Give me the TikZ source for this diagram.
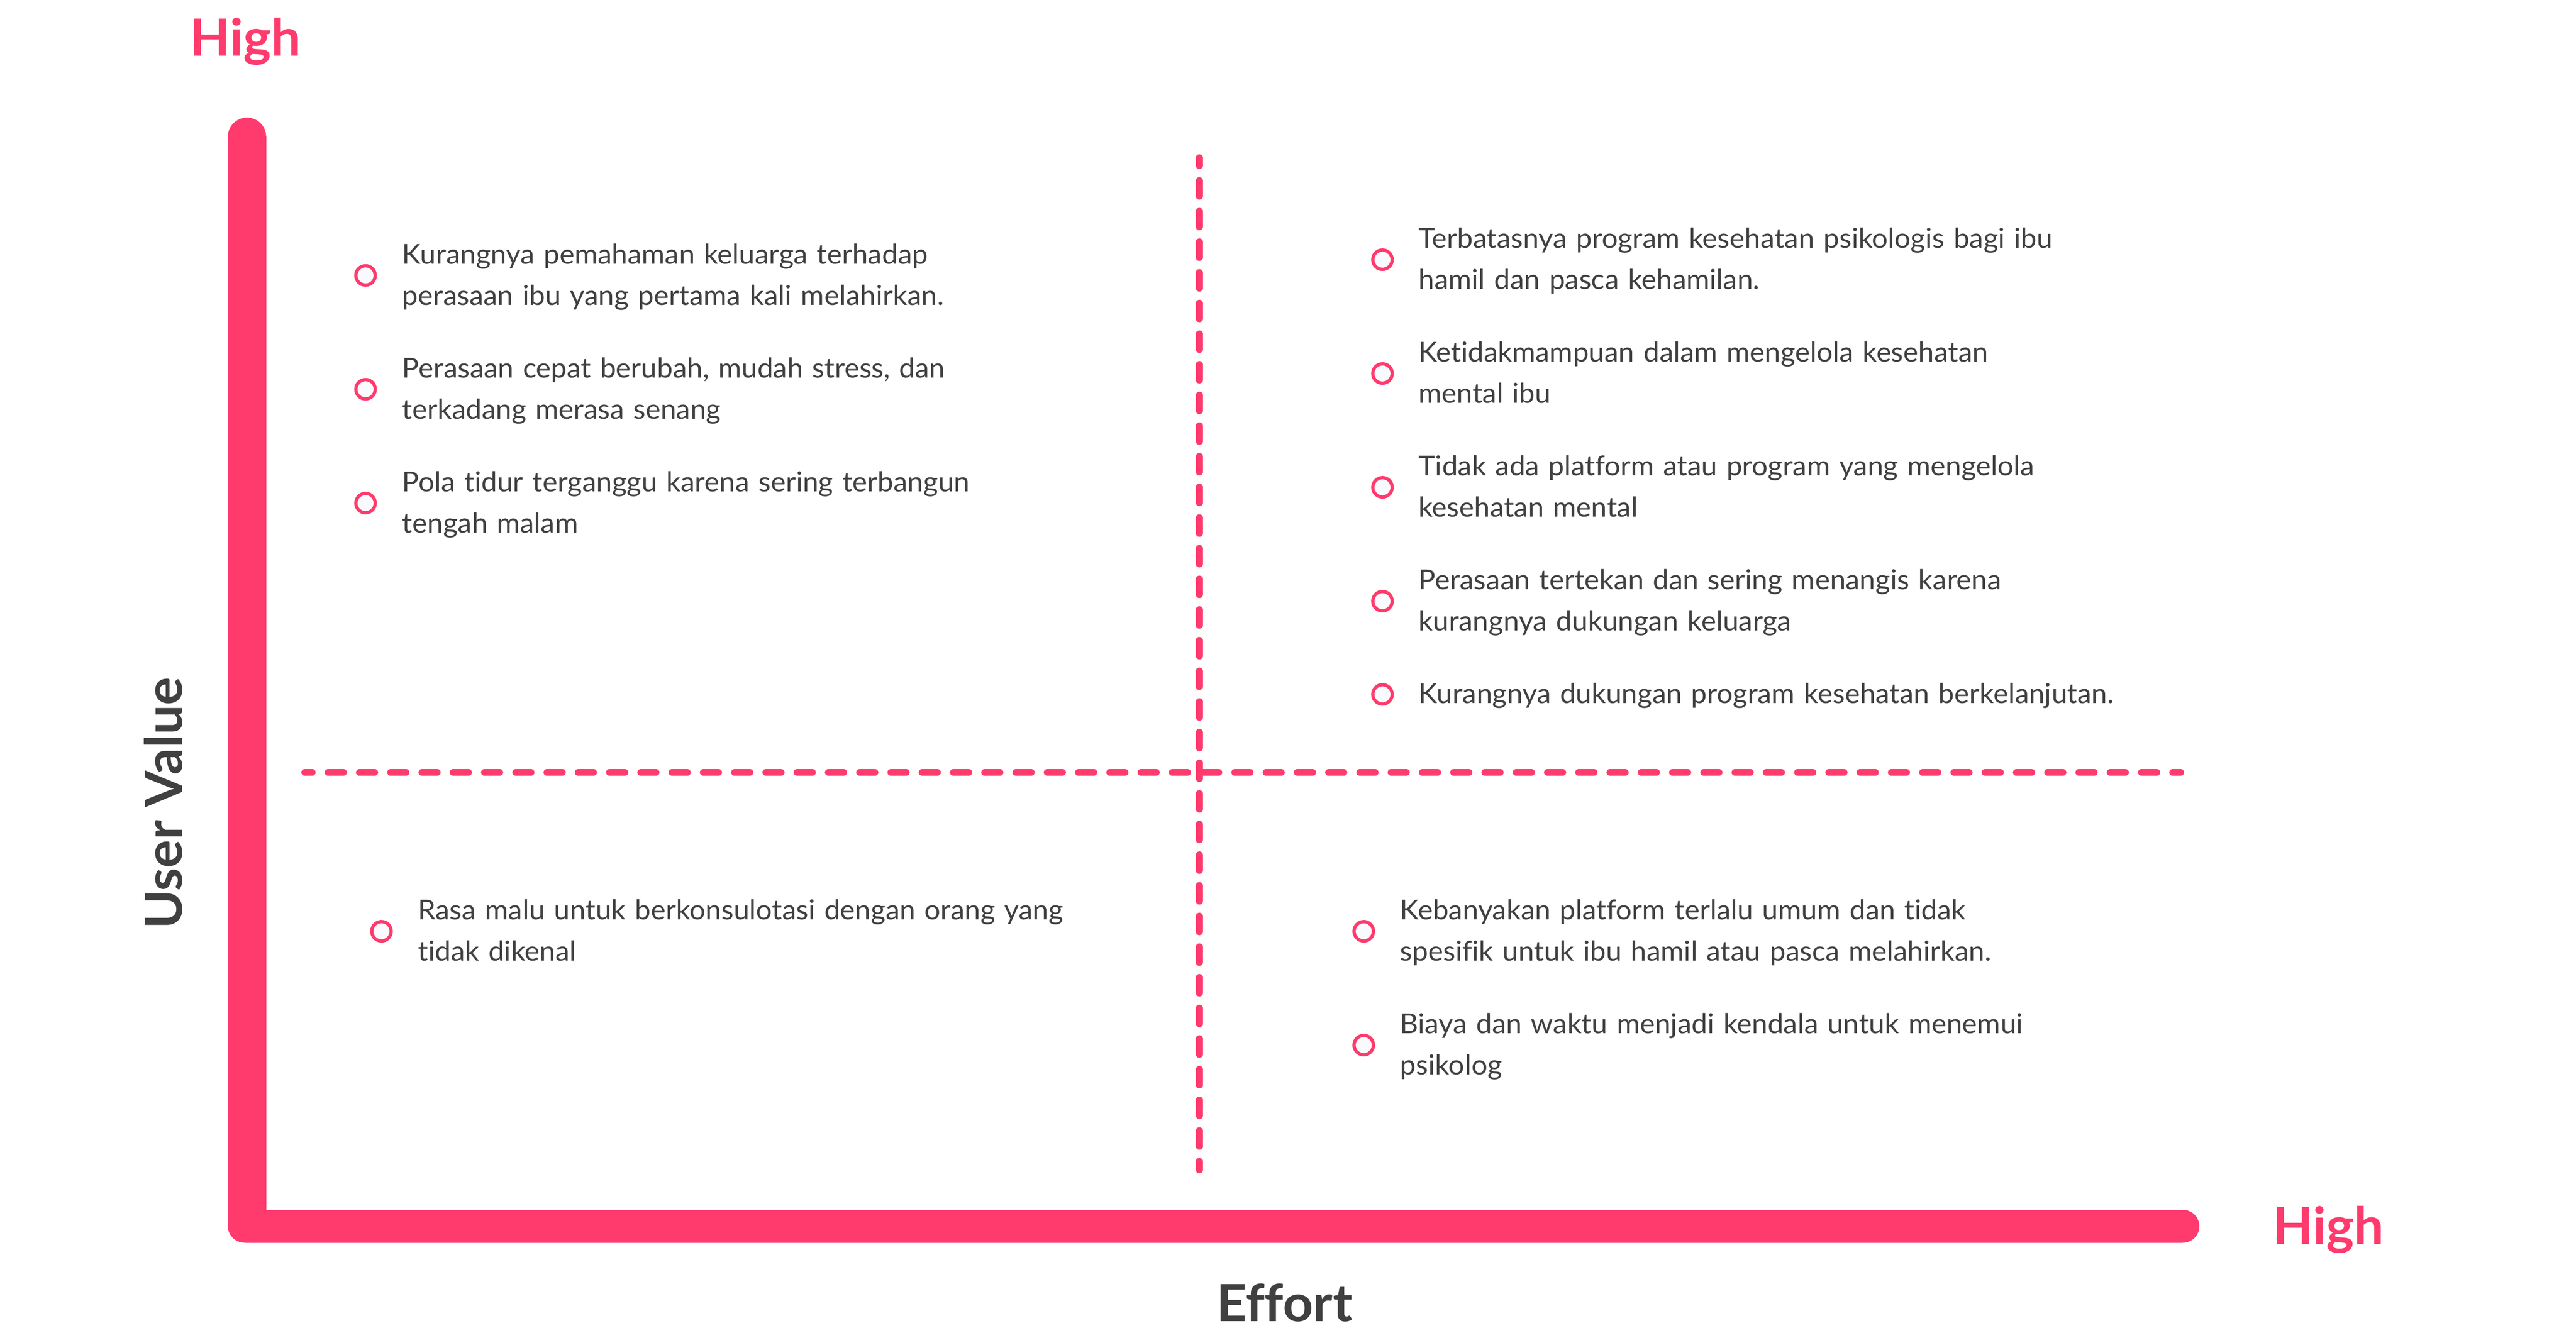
\documentclass[tikz,border=0pt]{standalone}
\usepackage{fontspec}
\setmainfont{Lato}[FakeStretch=1.028,Ligatures=NoCommon]
\definecolor{pinkc}{HTML}{FF3A6D}
\definecolor{txtc}{HTML}{404040}
\definecolor{bulfill}{HTML}{F9FAFD}
\begin{document}
\begin{tikzpicture}[x=1pt,y=-1pt,
  bul/.style={circle,draw=pinkc,line width=2pt,fill=bulfill,minimum size=11.8pt,inner sep=0pt,outer sep=0pt},
  itemtext/.style={anchor=base west,inner sep=0pt,outer sep=0pt,text width=460pt,align=left,text=txtc,
    font=\fontsize{16.75}{25.1}\selectfont},
  hilabel/.style={inner sep=0pt,outer sep=0pt,text=pinkc,font=\fontsize{31.2}{36}\selectfont\bfseries},
  axlabel/.style={inner sep=0pt,outer sep=0pt,text=txtc,font=\fontsize{31.2}{36}\selectfont\bfseries},
  vdash/.style={pinkc,line width=4.2pt,line cap=round,dash pattern=on 9.5pt off 9.16pt,dash phase=4.7pt},
  hdash/.style={pinkc,line width=4.2pt,line cap=round,dash pattern=on 9.3pt off 9.73pt,dash phase=4.8pt}]
\useasboundingbox (0,0) rectangle (1568,811.45);

% axes
\fill[pinkc] (150.35,83.25) circle[radius=11.65pt];
\fill[pinkc] (138.7,83.25) rectangle (162.0,746.4);
\fill[pinkc] (148.9,746.4) circle[radius=10.2pt];
\fill[pinkc] (148.9,736.6) rectangle (1328.7,756.6);
\fill[pinkc] (1328.7,746.6) circle[radius=10pt];

% quadrant dividers
\coordinate (vtop) at (730.0,96.0);
\coordinate (vbot) at (730.0,712.3);
\coordinate (hleft) at (185.5,470.3);
\coordinate (hright) at (1327.3,470.3);
\draw[vdash] (vtop) -- (vbot);
\draw[hdash] (hleft) -- (hright);

% axis labels
\node[hilabel,anchor=base west] (hightop) at (115.5,33.9) {High};
\node[hilabel,anchor=base west] (highright) at (1383.5,757.4) {High};
\node[axlabel,anchor=base] (effort) at (781.8,804.6) {Effort};
\node[axlabel,anchor=base,rotate=90] (uval) at (110.7,489) {User Value};

% top-left quadrant
\node[bul] (tl1b) at (222.5,167.7) {};
\node[itemtext] (tl1) at (244.9,160.7) {Kurangnya pemahaman keluarga terhadap\\perasaan ibu yang pertama kali melahirkan.};
\node[bul] (tl2b) at (222.5,237.0) {};
\node[itemtext] (tl2) at (244.9,230.0) {Perasaan cepat berubah, mudah stress, dan\\terkadang merasa senang};
\node[bul] (tl3b) at (222.5,306.3) {};
\node[itemtext] (tl3) at (244.9,299.3) {Pola tidur terganggu karena sering terbangun\\tengah malam};

% top-right quadrant
\node[bul] (tr1b) at (841.5,158.1) {};
\node[itemtext] (tr1) at (863.5,151.1) {Terbatasnya program kesehatan psikologis bagi ibu\\hamil dan pasca kehamilan.};
\node[bul] (tr2b) at (841.5,227.4) {};
\node[itemtext] (tr2) at (863.5,220.4) {Ketidakmampuan dalam mengelola kesehatan\\mental ibu};
\node[bul] (tr3b) at (841.5,296.7) {};
\node[itemtext] (tr3) at (863.5,289.7) {Tidak ada platform atau program yang mengelola\\kesehatan mental};
\node[bul] (tr4b) at (841.5,366.0) {};
\node[itemtext] (tr4) at (863.5,359.0) {Perasaan tertekan dan sering menangis karena\\kurangnya dukungan keluarga};
\node[bul] (tr5b) at (841.5,422.75) {};
\node[itemtext] (tr5) at (863.5,428.3) {Kurangnya dukungan program kesehatan berkelanjutan.};

% bottom-left quadrant
\node[bul] (bl1b) at (232.2,567.0) {};
\node[itemtext] (bl1) at (254.5,560.0) {Rasa malu untuk berkonsulotasi dengan orang yang\\tidak dikenal};

% bottom-right quadrant
\node[bul] (br1b) at (830.1,567.0) {};
\node[itemtext] (br1) at (852.3,560.0) {Kebanyakan platform terlalu umum dan tidak\\spesifik untuk ibu hamil atau pasca melahirkan.};
\node[bul] (br2b) at (830.1,636.3) {};
\node[itemtext] (br2) at (852.3,629.3) {Biaya dan waktu menjadi kendala untuk menemui\\psikolog};
\end{tikzpicture}
\end{document}
